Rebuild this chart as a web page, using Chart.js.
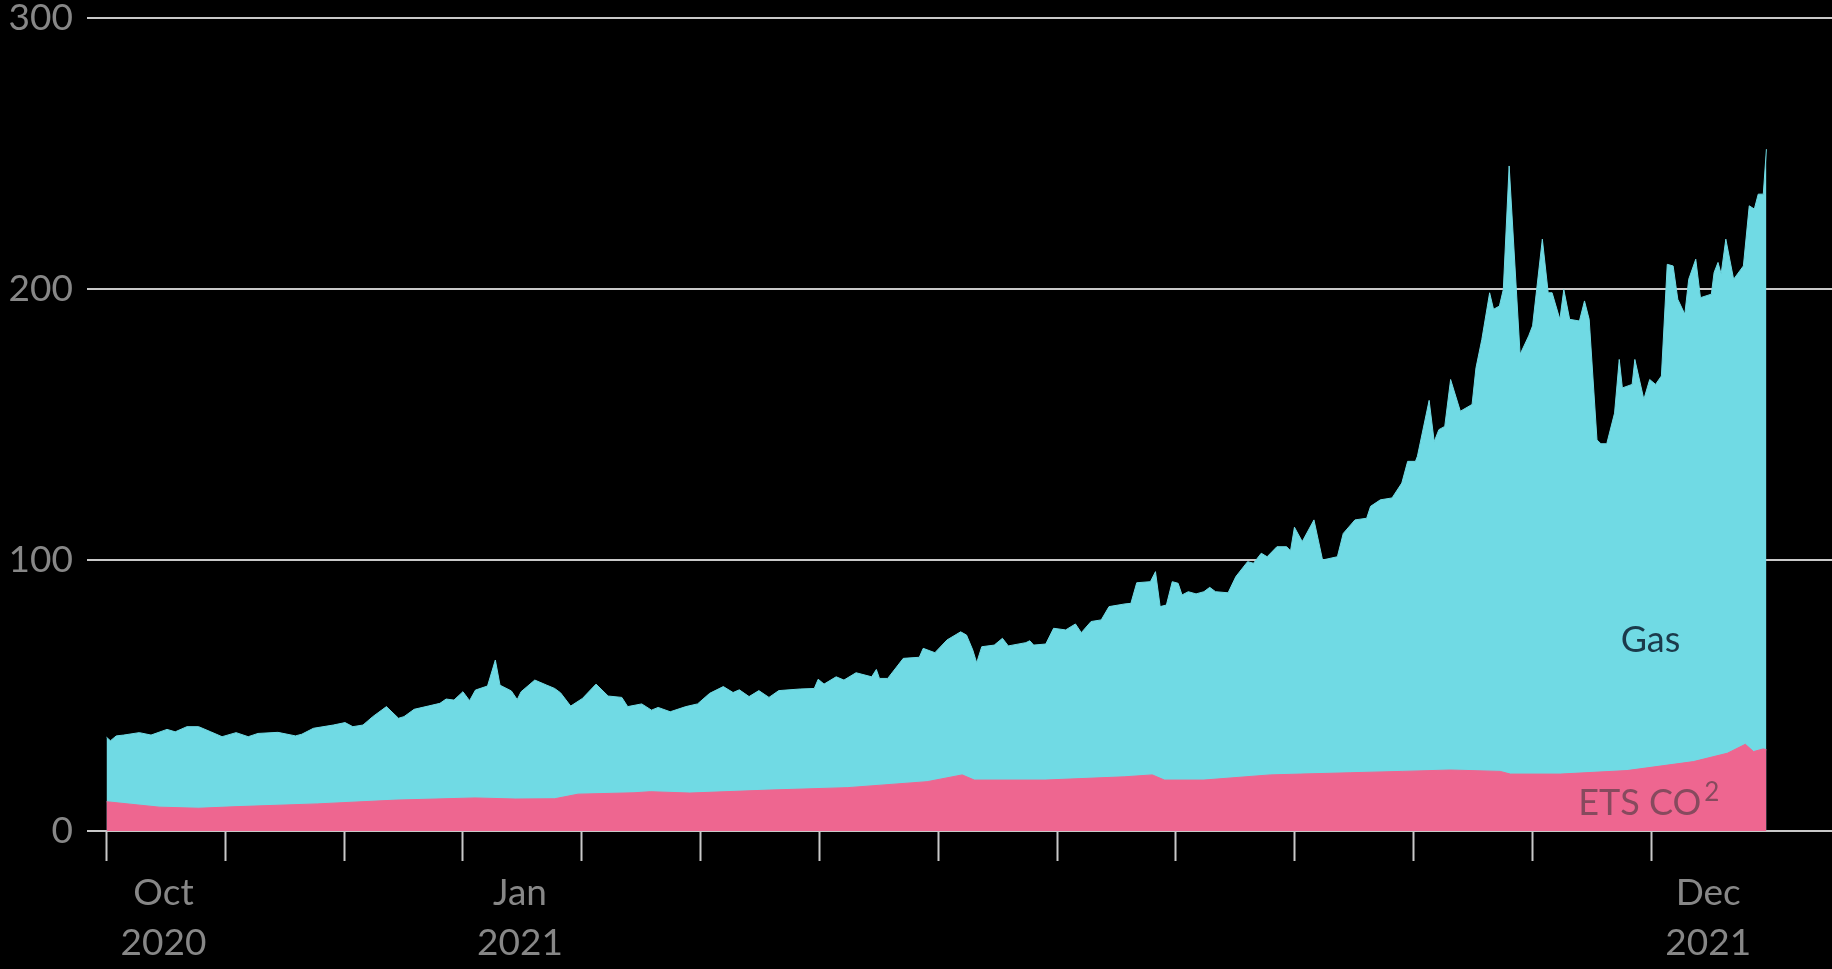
<!DOCTYPE html>
<html>
<head>
<meta charset="utf-8">
<style>
  html, body { margin: 0; padding: 0; background: #000; }
  #wrap { width: 1832px; height: 969px; position: relative; background: #000; }
</style>
<script src="https://cdn.jsdelivr.net/npm/chart.js@4.4.0/dist/chart.umd.min.js"></script>
</head>
<body>
<div id="wrap"><canvas id="c" width="1832" height="969"></canvas></div>
<script>
// ---- Data (x = days since 1 Oct 2020) ----
const xTickDays = Array.from({ length: 14 }, (_, i) => i * 30.4375);
const xTickLabels = [['Oct', '2020'], '', '', ['Jan', '2021'], '', '', '', '', '', '', '', '', '', ['Dec', '2021']];
const yTicks = [0, 100, 200, 300];

// ETS CO2 cost component
const co2Days = [0, 13.5, 23.6, 33.7, 54, 74.2, 94.4, 104.7, 114.8, 120.8,
  135.1, 139.3, 149.4, 169.7, 189.9, 210.2, 219.2, 222.3, 240.5, 260.8,
  267.9, 271, 281.1, 298.1, 305.8, 318.6, 331.9, 344.2, 357, 359.6,
  372.4, 389.5, 406.5, 415.2, 419.8, 421.9, 424.4, 425.2];
const co2Values = [10.8, 8.8, 8.4, 9.0, 10.0, 11.4, 12.2, 11.8, 11.9, 13.6,
  14.1, 14.5, 14.0, 15.1, 16.0, 18.2, 20.7, 18.8, 18.8, 20.0,
  20.7, 18.8, 18.8, 20.7, 21.0, 21.5, 22.0, 22.5, 22.0, 21.0,
  21.0, 22.3, 25.6, 28.7, 32.0, 29.3, 30.3, 30.0];

// Top of the Gas band (gas + ETS CO2, stacked total)
const gasTopDays = [0, 1, 2.5, 4.4, 8.4, 11.4, 15.5, 17.6, 20.6, 23.6,
  26.7, 29.6, 33.2, 36.3, 38.8, 43.9, 48.4, 50, 53, 58.1,
  61.1, 63.1, 65.7, 68.2, 71.7, 74.8, 76.2, 78.8, 82.4, 85.4,
  87, 89, 91.3, 93, 94.5, 97.6, 99.6, 100.8, 103.7, 105.2,
  106.2, 109.7, 112.8, 114.8, 116.3, 118.9, 121.9, 125.4, 128.5, 132,
  133.5, 137.1, 139.6, 141.3, 144.4, 148.4, 151.4, 154.5, 158, 160.5,
  162.1, 164.6, 167.1, 169.7, 172.2, 177.7, 181.3, 182.3, 183.8, 186.9,
  188.9, 192, 196, 197.2, 198, 200.1, 204.1, 208.2, 209.2, 212.2,
  215.3, 218.8, 220.3, 221.9, 222.9, 224.2, 227.4, 229.5, 231, 235.5,
  236.5, 237.5, 240.6, 242.6, 245.7, 248.2, 249.7, 252.2, 254.8, 256.8,
  260.9, 262.4, 263.9, 267.4, 268.7, 269.9, 271.5, 273, 274.5, 275.5,
  277.1, 279.1, 281.1, 282.6, 284.1, 287.3, 289.3, 292.3, 293.8, 295.8,
  297.3, 299.8, 302.3, 303.3, 304.3, 306.3, 309.3, 311.5, 315.3, 316.8,
  319.8, 322.8, 323.8, 326.3, 329.3, 331.8, 333.3, 335.3, 335.8, 338.8,
  340.1, 341.3, 342.8, 344.3, 346.8, 349.8, 350.8, 352.3, 354.3, 355.3,
  356.8, 357.8, 359.3, 362.1, 364.3, 365.3, 367.8, 369.3, 370.3, 372.3,
  373.3, 374.8, 377.3, 378.6, 379.8, 381.8, 382.8, 384.3, 386.3, 387.5,
  388.3, 390.8, 391.5, 393.8, 395.3, 396.8, 398.3, 399.8, 401.3, 402.5,
  404.3, 405.3, 407.1, 408.3, 411.1, 411.8, 412.8, 413.6, 414.8, 416.8,
  419.3, 420.8, 422.1, 423.1, 424.4, 425.2];
const gasTopValues = [34.6, 33.3, 35.1, 35.4, 36.3, 35.4, 37.5, 36.6, 38.5, 38.5,
  36.6, 34.8, 36.3, 34.8, 36.0, 36.4, 35.1, 35.7, 37.9, 39.1,
  40.0, 38.5, 39.1, 42.2, 45.9, 41.6, 42.2, 44.9, 46.1, 47.1,
  48.7, 48.3, 51.4, 48.1, 52.0, 53.5, 63.1, 53.8, 51.7, 48.5,
  51.4, 55.7, 53.8, 52.6, 51.0, 46.1, 48.9, 54.2, 49.8, 49.3,
  45.9, 46.9, 44.6, 45.6, 44.0, 45.9, 46.9, 50.8, 53.3, 51.1,
  52.1, 49.6, 51.8, 49.3, 51.8, 52.4, 52.6, 56.0, 54.2, 56.9,
  55.7, 58.4, 56.9, 59.6, 56.3, 56.3, 63.7, 64.1, 67.4, 65.8,
  70.5, 73.5, 72.3, 66.8, 62.1, 68.0, 68.6, 71.1, 68.3, 69.5,
  70.2, 68.6, 69.0, 74.8, 74.2, 76.4, 73.2, 77.3, 77.9, 82.8,
  83.8, 84.0, 91.6, 92.0, 95.7, 82.8, 83.4, 92.0, 91.4, 87.1,
  88.3, 87.5, 88.3, 89.9, 88.3, 87.9, 93.9, 99.4, 98.8, 102.5,
  101.2, 104.9, 104.9, 103.4, 112.1, 106.8, 114.8, 100.0, 101.2, 109.8,
  114.8, 115.4, 119.8, 122.2, 122.9, 128.4, 136.4, 136.4, 138.3, 158.9,
  143.7, 148.1, 149.3, 166.6, 154.9, 157.4, 170.9, 181.4, 198.6, 192.5,
  193.7, 199.8, 245.4, 175.9, 182.7, 186.4, 218.4, 198.6, 198.6, 188.8,
  199.8, 188.8, 188.2, 195.6, 188.8, 144.3, 142.9, 142.9, 154.2, 174.0,
  163.5, 164.8, 174.0, 159.3, 166.6, 164.8, 167.9, 209.1, 208.5, 196.2,
  190.7, 203.6, 211.0, 196.8, 198.1, 206.1, 209.8, 205.5, 218.4, 203.6,
  208.5, 230.7, 229.5, 235.0, 235.0, 251.6];

// ---- Styling ----
const FONT = 'Lato';
const AXIS_TEXT = '#878787';
const GRID = '#c9c9c9';
const GAS_COLOR = '#70DAE4';
const CO2_COLOR = '#EE6690';

const seriesLabels = {
  id: 'seriesLabels',
  afterDatasetsDraw(chart) {
    const { ctx, scales: { x, y } } = chart;
    ctx.save();
    ctx.font = `36px ${FONT}`;
    ctx.fillStyle = '#1b3a4b';
    ctx.textAlign = 'center';
    ctx.textBaseline = 'middle';
    ctx.fillText('Gas', x.getPixelForValue(395.5), y.getPixelForValue(70.5));

    ctx.fillStyle = '#874a5e';
    ctx.textAlign = 'left';
    ctx.textBaseline = 'alphabetic';
    const lx = x.getPixelForValue(377), ly = y.getPixelForValue(5.9);
    ctx.fillText('ETS CO', lx, ly);
    const w = ctx.measureText('ETS CO').width;
    ctx.font = `26px ${FONT}`;
    ctx.fillText('2', lx + w + 3, y.getPixelForValue(11));
    ctx.restore();
  }
};

function draw() {
  new Chart(document.getElementById('c'), {
    type: 'line',
    data: {
      datasets: [
        {
          label: 'ETS CO2',
          data: co2Days.map((d, i) => ({ x: d, y: co2Values[i] })),
          backgroundColor: CO2_COLOR, borderColor: CO2_COLOR, borderWidth: 1,
          fill: 'origin', pointRadius: 0, tension: 0, order: 0
        },
        {
          label: 'Gas',
          data: gasTopDays.map((d, i) => ({ x: d, y: gasTopValues[i] })),
          backgroundColor: GAS_COLOR, borderColor: GAS_COLOR, borderWidth: 1,
          fill: 'origin', pointRadius: 0, tension: 0, order: 1
        }
      ]
    },
    options: {
      responsive: false,
      animation: false,
      events: [],
      layout: { padding: { left: 7, top: 18, right: 0, bottom: 0 } },
      plugins: { legend: { display: false }, tooltip: { enabled: false } },
      scales: {
        x: {
          type: 'linear', min: -5, max: 442,
          border: { display: false },
          grid: { drawOnChartArea: false, drawTicks: true, tickLength: 30, tickWidth: 2, tickColor: GRID, color: GRID },
          afterBuildTicks: s => { s.ticks = xTickDays.map(v => ({ value: v })); },
          afterFit: s => { s.height = 138; s.paddingLeft = 0; s.paddingRight = 0; },
          ticks: {
            autoSkip: false, maxRotation: 0, minRotation: 0, labelOffset: 57, padding: 7,
            color: AXIS_TEXT, font: { family: FONT, size: 37, lineHeight: 1.36 },
            callback: (v, i) => xTickLabels[i]
          }
        },
        y: {
          min: 0, max: 300,
          border: { display: false },
          grid: { color: GRID, lineWidth: 2, drawTicks: false },
          afterBuildTicks: s => { s.ticks = yTicks.map(v => ({ value: v })); },
          afterFit: s => { s.width = 80; s.paddingTop = 0; s.paddingBottom = 0; },
          ticks: {
            padding: 14, color: AXIS_TEXT, font: { family: FONT, size: 37 },
            callback: v => String(v)
          }
        }
      }
    },
    plugins: [seriesLabels]
  });
}

if (document.fonts && document.fonts.load) {
  Promise.all([document.fonts.load(`37px ${FONT}`), document.fonts.load(`26px ${FONT}`)])
    .then(draw, draw);
} else { draw(); }
</script>
</body>
</html>
